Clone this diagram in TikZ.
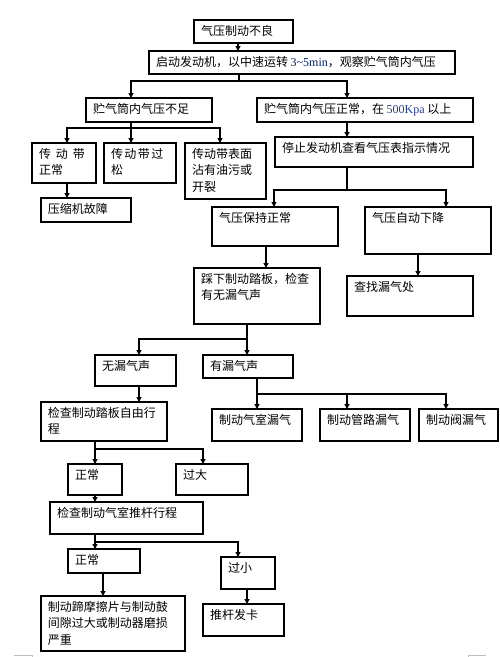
\documentclass[tikz,border=0pt]{standalone}
\usepackage{fontspec}
\setmainfont{Liberation Serif}
\newfontfamily\cjk{Noto Sans CJK SC}
\usetikzlibrary{arrows.meta}
\definecolor{ink}{RGB}{0,0,0}
\definecolor{numnavy}{RGB}{0,32,96}
\definecolor{numblue}{RGB}{31,60,136}
\definecolor{cropgray}{RGB}{190,190,190}
% box text: width, height, text (pinned top left)
\newcommand{\boxtxt}[3]{\parbox[c][#2pt][t]{#1pt}{\baselineskip=16.5pt\leftskip=7pt\rightskip=0pt plus 1fil\vskip 5pt #3\par}}
\tikzset{
    box/.style={
        draw=ink,
        line width=1.8pt,
        inner sep=0pt,
        outer sep=0pt,
        anchor=north west,
        font=\cjk\fontsize{12pt}{16.5pt}\selectfont
    },
    link/.style={
        draw=ink,
        line width=1.3pt,
        line cap=rect
    },
    flow/.style={
        link,
        -{Triangle[width=5pt,length=5pt]}
    },
    cropmark/.style={
        draw=cropgray,
        line width=0.8pt
    }
}

\begin{document}
\begin{tikzpicture}[x=1pt, y=-1pt]
\useasboundingbox (0,0) rectangle (500,657);

% Boxes
\node[box] (b1) at (194,20) {\boxtxt{99}{23}{气压制动不良}};
\node[box] (b2) at (149,51) {\boxtxt{306}{23}{启动发动机，以中速运转 {\rmfamily\color{numnavy}3\textasciitilde5min}，观察贮气筒内气压}};
\node[box] (b3) at (86,98) {\boxtxt{126}{24}{贮气筒内气压不足}};
\node[box] (b4) at (257,98) {\boxtxt{216}{24}{贮气筒内气压正常，在 {\rmfamily\color{numblue}500Kpa} 以上}};
\node[box] (b5) at (32,143) {\boxtxt{64}{40}{传\hspace{5pt}动\hspace{5pt}带\\正常}};
\node[box] (b6) at (104,143) {\boxtxt{72}{40}{传\hspace{1.5pt}动\hspace{1.5pt}带\hspace{1.5pt}过\\松}};
\node[box] (b7) at (185,143) {\boxtxt{81}{56}{传动带表面\\沾有油污或\\开裂}};
\node[box] (b8) at (275,137) {\boxtxt{198}{30}{停止发动机查看气压表指示情况}};
\node[box] (b9) at (41,198) {\boxtxt{90}{24}{压缩机故障}};
\node[box] (b10) at (212,207) {\boxtxt{126}{39}{气压保持正常}};
\node[box] (b11) at (365,207) {\boxtxt{126}{47}{气压自动下降}};
\node[box] (b12) at (194,268) {\boxtxt{126}{56}{踩下制动踏板，检查\\有无漏气声}};
\node[box] (b13) at (347,276) {\boxtxt{126}{40}{查找漏气处}};
\node[box] (b14) at (95,355) {\boxtxt{81}{31}{无漏气声}};
\node[box] (b15) at (203,355) {\boxtxt{90}{23}{有漏气声}};
\node[box] (b16) at (212,409) {\boxtxt{90}{32}{制动气室漏气}};
\node[box] (b17) at (320,409) {\boxtxt{90}{32}{制动管路漏气}};
\node[box] (b18) at (419,409) {\boxtxt{79}{32}{制动阀漏气}};
\node[box] (b19) at (41,402) {\boxtxt{126}{39}{检查制动踏板自由行\\程}};
\node[box] (b20) at (68,464) {\boxtxt{54}{31}{正常}};
\node[box] (b21) at (176,464) {\boxtxt{72}{31}{过大}};
\node[box] (b22) at (50,502) {\boxtxt{153}{32}{检查制动气室推杆行程}};
\node[box] (b23) at (68,549) {\boxtxt{72}{24}{正常}};
\node[box] (b24) at (221,557) {\boxtxt{54}{32}{过小}};
\node[box] (b25) at (41,596) {\boxtxt{144}{55}{制动蹄摩擦片与制动鼓\\间隙过大或制动器磨损\\严重}};
\node[box] (b26) at (203,604) {\boxtxt{81}{32}{推杆发卡}};

% Straight arrows
\foreach \x/\a/\b in {238/b1/b2, 347/b4/b8, 67/b5/b9, 266/b10/b12, 418/b11/b13,
                      139/b14/b19, 95/b20/b22, 103/b23/b25, 247/b24/b26} {
    \coordinate (t) at (\x,0);
    \draw[flow] (\a.south -| t) -- (\b.north -| t);
}

% Branch stems and bars
\foreach \src/\sx/\by/\xl/\xr in {b2/239/81/131/347, b3/131/128/67/220, b8/347/190/274/446,
                                  b12/247/339/139/247, b15/257/394/257/446,
                                  b19/95/449/95/203, b22/95/542/95/238} {
    \coordinate (s) at (\sx,\by);
    \coordinate (jl) at (\xl,\by);
    \coordinate (jr) at (\xr,\by);
    \draw[link] (\src.south -| s) -- (s);
    \draw[link] (jl) -- (jr);
}

% Branch drops
\foreach \x/\y/\dst in {131/81/b3, 347/81/b4, 67/128/b5, 131/128/b6, 220/128/b7,
                        274/190/b10, 446/190/b11, 139/339/b14, 247/339/b15,
                        257/394/b16, 347/394/b17, 446/394/b18,
                        95/449/b20, 203/449/b21, 95/542/b23, 238/542/b24} {
    \coordinate (d) at (\x,\y);
    \draw[flow] (d) -- (\dst.north -| d);
}

% Page corner marks
\draw[cropmark] (14,655) -- (32,655) -- (32,657);
\draw[cropmark] (486,655) -- (468,655) -- (468,657);
\end{tikzpicture}
\end{document}
